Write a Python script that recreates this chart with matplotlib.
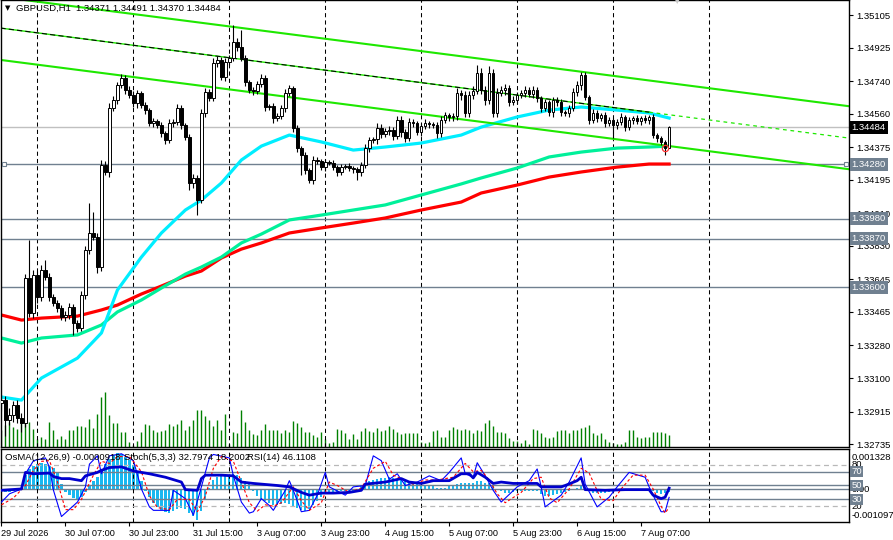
import numpy as np
import matplotlib
matplotlib.use('Agg')
import matplotlib.pyplot as plt
import matplotlib.transforms as mtrans

plt.rcParams['font.family'] = ['Liberation Sans', 'DejaVu Sans']
plt.rcParams['font.size'] = 6.8

################################################################################
# GBPUSD H1 data (bar 0 = 29 Jul 15:00)

close = np.array([
    1.32978, 1.32868, 1.32896, 1.32951, 1.32879, 1.32851, 1.33652, 1.33459, 1.33669, 1.33547,
    1.33697, 1.33658, 1.33547, 1.33514, 1.33487, 1.33437, 1.33448, 1.33492, 1.33404, 1.33376,
    1.33558, 1.33807, 1.33901, 1.33879, 1.33713, 1.34277, 1.34238, 1.34591, 1.34636, 1.34718,
    1.34757, 1.34691, 1.34663, 1.34619, 1.34674, 1.34608, 1.34580, 1.34509, 1.34520, 1.34497,
    1.34453, 1.34415, 1.34509, 1.34514, 1.34591, 1.34497, 1.34431, 1.34177, 1.34205, 1.34083,
    1.34564, 1.34680, 1.34647, 1.34840, 1.34857, 1.34763, 1.34845, 1.34868, 1.34956, 1.34928,
    1.34868, 1.34735, 1.34691, 1.34685, 1.34724, 1.34757, 1.34597, 1.34602, 1.34536, 1.34547,
    1.34591, 1.34674, 1.34702, 1.34481, 1.34370, 1.34332, 1.34249, 1.34194, 1.34304, 1.34299,
    1.34265, 1.34293, 1.34288, 1.34265, 1.34238, 1.34265, 1.34271, 1.34260, 1.34254, 1.34238,
    1.34277, 1.34370, 1.34415, 1.34420, 1.34481, 1.34448, 1.34464, 1.34470, 1.34437, 1.34525,
    1.34459, 1.34426, 1.34514, 1.34509, 1.34459, 1.34492, 1.34509, 1.34503, 1.34497, 1.34453,
    1.34525, 1.34553, 1.34542, 1.34547, 1.34674, 1.34663, 1.34564, 1.34663, 1.34685, 1.34785,
    1.34691, 1.34636, 1.34785, 1.34564, 1.34674, 1.34691, 1.34702, 1.34625, 1.34636, 1.34663,
    1.34674, 1.34691, 1.34669, 1.34691, 1.34647, 1.34591, 1.34625, 1.34569, 1.34636, 1.34625,
    1.34569, 1.34564, 1.34591, 1.34680, 1.34718, 1.34774, 1.34652, 1.34525, 1.34564, 1.34536,
    1.34553, 1.34509, 1.34525, 1.34497, 1.34514, 1.34542, 1.34486, 1.34525, 1.34536, 1.34520,
    1.34536, 1.34525, 1.34542, 1.34442, 1.34426, 1.34404, 1.34371, 1.34484])
first_open = 1.32960

# wick lengths above / below the body, in points (1e-5)
up_wick = np.array([
    30, 25, 40, 20, 25, 30, 20, 210, 25, 20,
    30, 55, 20, 15, 15, 15, 20, 20, 15, 15,
    25, 20, 166, 116, 20, 25, 20, 30, 20, 15,
    20, 15, 20, 25, 15, 10, 15, 10, 15, 10,
    15, 10, 20, 15, 25, 15, 10, 15, 20, 15,
    20, 20, 15, 25, 20, 15, 20, 15, 94, 20,
    94, 15, 10, 15, 15, 20, 15, 10, 15, 15,
    15, 20, 15, 10, 15, 10, 15, 10, 20, 15,
    10, 15, 10, 15, 10, 15, 10, 15, 10, 10,
    15, 20, 15, 10, 25, 20, 15, 20, 15, 25,
    20, 15, 20, 15, 10, 15, 20, 10, 10, 15,
    20, 15, 10, 15, 30, 15, 20, 25, 30, 44,
    25, 20, 40, 20, 30, 20, 20, 15, 20, 15,
    15, 20, 15, 20, 15, 10, 15, 10, 15, 15,
    15, 10, 15, 20, 25, 17, 15, 10, 20, 15,
    10, 15, 15, 10, 15, 20, 10, 15, 10, 15,
    10, 15, 10, 15, 10, 10, 10, 7])
dn_wick = np.array([
    40, 90, 30, 40, 30, 50, 20, 20, 25, 30,
    20, 15, 20, 15, 20, 15, 20, 20, 66, 20,
    15, 20, 20, 15, 33, 20, 15, 28, 15, 20,
    15, 20, 15, 20, 25, 15, 20, 15, 20, 15,
    20, 25, 15, 20, 15, 20, 15, 40, 30, 83,
    15, 20, 15, 15, 20, 15, 20, 15, 15, 20,
    15, 20, 15, 20, 15, 15, 20, 15, 25, 15,
    15, 20, 15, 20, 20, 110, 20, 17, 20, 15,
    15, 20, 10, 15, 20, 15, 10, 15, 20, 44,
    20, 15, 20, 15, 25, 20, 15, 20, 25, 15,
    25, 20, 15, 20, 15, 20, 15, 20, 15, 25,
    20, 15, 20, 25, 20, 30, 20, 25, 20, 15,
    20, 30, 20, 25, 20, 15, 25, 20, 15, 20,
    15, 20, 15, 20, 25, 20, 15, 20, 25, 20,
    20, 15, 20, 15, 20, 25, 15, 20, 15, 20,
    15, 20, 15, 72, 20, 15, 20, 15, 20, 15,
    20, 15, 20, 15, 20, 15, 39, 1])

# tick volume (hundreds)
tick_vol = np.array([
    17, 22, 25, 20, 18, 28, 30, 25, 18, 8,
    10, 8, 25, 17, 8, 11, 8, 17, 17, 21,
    21, 20, 28, 19, 33, 50, 55, 32, 24, 24,
    15, 15, 5, 2, 6, 15, 23, 22, 17, 15,
    16, 17, 23, 21, 23, 27, 17, 21, 27, 37,
    37, 31, 27, 21, 27, 17, 33, 3, 15, 14,
    37, 25, 17, 13, 12, 17, 23, 17, 17, 17,
    14, 17, 15, 26, 24, 20, 15, 15, 12, 10,
    15, 8, 4, 5, 18, 17, 14, 8, 13, 8,
    16, 19, 16, 15, 19, 16, 17, 21, 18, 15,
    13, 14, 14, 14, 14, 5, 4, 5, 16, 17,
    10, 10, 17, 20, 18, 17, 18, 17, 14, 17,
    16, 24, 27, 21, 15, 15, 14, 9, 6, 6,
    4, 7, 3, 18, 17, 14, 10, 9, 10, 16,
    17, 17, 14, 17, 17, 19, 20, 22, 14, 12,
    14, 8, 5, 4, 3, 3, 5, 17, 17, 10,
    9, 10, 10, 15, 15, 15, 14, 12])

# moving averages, read at these bars
ma_bars = [0, 5, 10, 19, 25, 29, 35, 40, 46, 50, 55, 60, 65, 72, 80, 88, 96,
           105, 115, 120, 129, 137, 145, 154, 162, 167]
ma_fast = [1.32995, 1.32978, 1.33100, 1.33210, 1.33349, 1.33586, 1.33768, 1.33901,
           1.34028, 1.34083, 1.34177, 1.34304, 1.34381, 1.34442, 1.34404, 1.34359,
           1.34376, 1.34398, 1.34442, 1.34486, 1.34542, 1.34580, 1.34597, 1.34580,
           1.34564, 1.34536]
ma_mid = [1.33321, 1.33293, 1.33321, 1.33338, 1.33393, 1.33465, 1.33531, 1.33597,
          1.33674, 1.33713, 1.33768, 1.33846, 1.33895, 1.33973, 1.34000, 1.34028,
          1.34056, 1.34111, 1.34172, 1.34205, 1.34260, 1.34321, 1.34348, 1.34370,
          1.34376, 1.34381]
ma_slow = [1.33448, 1.33420, 1.33431, 1.33442, 1.33476, 1.33503, 1.33564, 1.33608,
           1.33663, 1.33691, 1.33763, 1.33812, 1.33846, 1.33901, 1.33929, 1.33956,
           1.33984, 1.34028, 1.34072, 1.34122, 1.34166, 1.34210, 1.34238, 1.34265,
           1.34282, 1.34282]

# descending channel (end points)
chan_bars = [-0.25, 211.75]
chan_upper = [1.35205, 1.34602]
chan_middle = [1.35033, 1.34426]
chan_lower = [1.34857, 1.34254]

levels = [1.34280, 1.33980, 1.33870, 1.33600]
last_price = 1.34484

price_ticks = [1.35105, 1.34925, 1.34740, 1.34560, 1.34375, 1.34195, 1.34010,
               1.33830, 1.33645, 1.33465, 1.33280, 1.33100, 1.32915, 1.32735]

day_bars = [9, 33, 57, 81, 105, 129, 153, 177]
time_bars = [0, 16, 32, 48, 64, 80, 96, 112, 128, 144, 160]
time_labels = ['29 Jul 2026', '30 Jul 07:00', '30 Jul 23:00', '31 Jul 15:00',
               '3 Aug 07:00', '3 Aug 23:00', '4 Aug 15:00', '5 Aug 07:00',
               '5 Aug 23:00', '6 Aug 15:00', '7 Aug 07:00']

# OsMA(12,26,9) histogram, in points (1e-5)
osma_pts = np.array([
    -7, -11, -11, -7, -4, 0, 54, 75, 86, 93,
    97, 93, 86, 79, 61, 18, -11, -22, -32, -36,
    -29, -11, 11, 32, 47, 72, 93, 111, 126, 133,
    129, 118, 108, 90, 65, 29, -7, -29, -50, -65,
    -75, -83, -86, -79, -72, -68, -72, -86, -97, -110,
    -79, -36, 7, 36, 47, 50, 54, 54, 57, 54,
    43, 32, 18, -4, -25, -36, -43, -50, -57, -57,
    -54, -50, -54, -61, -68, -75, -79, -72, -57, -43,
    -29, -14, -11, -11, -11, -7, -7, -7, -4, 0,
    11, 18, 29, 36, 39, 43, 43, 47, 43, 39,
    36, 29, 25, 22, 18, 14, 14, 11, 11, 7,
    7, 7, 11, 11, 18, 22, 22, 22, 25, 29,
    29, 25, 22, 11, 0, -7, -14, -14, -11, -7,
    -4, -4, -4, -4, -7, -18, -25, -25, -22, -18,
    -14, -11, -7, 0, 7, 11, 7, -7, -14, -14,
    -14, -14, -11, -11, -7, -7, -4, -4, -4, -4,
    -4, -4, -4, -7, -14, -18, -14, -9])

# RSI(14)
rsi_bars = [0, 5, 6, 8, 12, 13, 15, 17, 20, 21, 24, 25, 27, 30, 33, 35, 37, 41, 45, 46,
            49, 50, 51, 55, 58, 60, 63, 65, 69, 72, 75, 77, 80, 83, 87, 90, 91, 96, 100, 102,
            105, 108, 112, 115, 117, 118, 119, 121, 123, 125, 128, 131, 134, 135, 140, 141,
            144, 145, 146, 151, 156, 162, 163, 165, 166, 167]
rsi_vals = [43, 45, 69, 67, 68, 63, 60, 60, 57, 64, 69, 72, 76, 77, 71, 69, 67, 62, 55, 44,
            43, 60, 65, 65, 64, 55, 53, 52, 50, 48, 40, 36, 39, 39, 40, 43, 52, 55, 60, 55,
            53, 57, 57, 67, 67, 61, 69, 62, 53, 55, 53, 53, 53, 48, 48, 50,
            57, 62, 44, 43, 44, 44, 36, 31, 33, 46.11]

# Stochastic(5,3,3) main and signal
st_bars = [0, 2, 5, 6, 8, 11, 12, 13, 15, 19, 21, 22, 24, 25, 27, 30, 33, 35, 37, 38,
           42, 43, 46, 48, 50, 52, 53, 57, 58, 60, 62, 63, 65, 67, 68, 71, 72, 73, 75, 77,
           79, 81, 82, 86, 88, 91, 93, 95, 97, 99, 101, 104, 107, 110, 112, 115, 116, 118,
           119, 121, 123, 125, 129, 132, 134, 135, 136, 140, 142, 145, 146, 149, 152, 154,
           157, 161, 162, 165, 166, 167]
st_main = [26, 38, 45, 67, 86, 90, 76, 43, 5, 26, 48, 81, 93, 67, 93, 96, 86, 45, 19, 14,
           14, 43, 31, 7, 48, 90, 95, 90, 64, 26, 10, 12, 31, 21, 14, 43, 57, 43, 12, 14,
           36, 69, 48, 36, 48, 50, 93, 86, 59, 67, 50, 55, 64, 57, 69, 90, 67, 62,
           83, 64, 43, 26, 48, 57, 74, 48, 19, 36, 55, 90, 52, 19, 33, 48,
           69, 62, 48, 12, 12, 32.8]
sg_bars = [0, 3, 6, 8, 10, 12, 14, 16, 18, 20, 23, 25, 27, 29, 32, 35, 37, 39, 42, 44,
           47, 49, 51, 53, 55, 58, 60, 62, 64, 66, 68, 70, 73, 75, 77, 80, 82, 84, 87, 90,
           93, 96, 98, 100, 103, 106, 109, 113, 116, 118, 120, 122, 124, 126, 130, 133,
           135, 137, 139, 142, 145, 147, 150, 153, 155, 158, 161, 163, 165, 166, 167]
st_signal = [22, 32, 50, 72, 85, 86, 55, 15, 15, 30, 65, 85, 82, 92, 92, 70, 35, 18, 15, 30,
             30, 12, 35, 75, 92, 85, 55, 25, 13, 22, 20, 25, 48, 28, 14, 25, 55, 50, 40, 46,
             75, 85, 65, 60, 52, 58, 58, 62, 82, 70, 72, 58, 38, 25, 40, 60,
             62, 32, 25, 45, 75, 68, 30, 28, 45, 65, 65, 45, 20, 10, 18.2]

################################################################################

W, H = 893, 540
fig = plt.figure(figsize=(W / 100, H / 100), dpi=100)


def box(x0, y0, x1, y1):
    return [x0 / W, 1 - y1 / H, (x1 - x0) / W, (y1 - y0) / H]


slate = '#708090'
lime = '#1ee800'

ax = fig.add_axes(box(0.5, 0, 849, 447))
axv = ax.twinx()
ax.set_zorder(axv.get_zorder() + 1)
ax.patch.set_visible(False)

idx = np.arange(len(close))
opens = np.concatenate([[first_open], close[:-1]])
highs = np.maximum(opens, close) + up_wick * 1e-5
lows = np.minimum(opens, close) - dn_wick * 1e-5
bull = close >= opens

axv.vlines(idx, 0, tick_vol, color='#008000', lw=1.0)
axv.set_ylim(0, tick_vol.max() * 447 / 55)
axv.set_axis_off()

for b in day_bars:
    ax.axvline(b, color='black', lw=0.75, ls=(0, (4, 3)), zorder=1)

ax.axhline(last_price, color='#c0c0c0', lw=1.0, zorder=1)
for lv in levels:
    ax.axhline(lv, color=slate, lw=1.0, zorder=1)
blend = mtrans.blended_transform_factory(ax.transAxes, ax.transData)
ax.plot([0.004, 0.996], [levels[0]] * 2, ls='none', marker='s', ms=3.2,
        mfc='white', mec=slate, mew=0.8, transform=blend, zorder=6)

ax.plot(ma_bars, ma_slow, color='#ff0000', lw=2.3, zorder=2)
ax.plot(ma_bars, ma_mid, color='#00f09a', lw=2.3, zorder=2)
ax.plot(ma_bars, ma_fast, color='#00eeff', lw=2.3, zorder=2)

ax.plot(chan_bars, chan_upper, color=lime, lw=1.5, zorder=2)
ax.plot(chan_bars, chan_lower, color=lime, lw=1.5, zorder=2)
split = 162
mid_split = np.interp(split, chan_bars, chan_middle)
ax.plot([chan_bars[0], split], [chan_middle[0], mid_split], color=lime, lw=1.0, zorder=2)
ax.plot([chan_bars[0], split], [chan_middle[0], mid_split], color='black', lw=0.75,
        ls=(0, (5, 3)), zorder=2)
ax.plot([split, chan_bars[1]], [mid_split, chan_middle[1]], color=lime, lw=0.9,
        ls=(0, (3, 3)), zorder=2)

ax.vlines(idx, lows, highs, color='black', lw=0.8, zorder=3)
ax.bar(idx[bull], (close - opens)[bull], bottom=opens[bull], width=0.62,
       color='white', edgecolor='black', lw=0.7, zorder=4)
ax.bar(idx[~bull], (close - opens)[~bull], bottom=opens[~bull], width=0.62,
       color='black', edgecolor='black', lw=0.7, zorder=4)
ax.plot([166], [close[166]], marker='o', ms=4.5, mfc='none', mec='#ff3030', mew=0.9, zorder=5)

ax.set_xlim(-0.25, 212)
ax.set_ylim(1.32719, 1.35188)
ax.set_xticks([])
ax.yaxis.tick_right()
ax.set_yticks(price_ticks)
ax.set_yticklabels(['%.5f' % v for v in price_ticks])
ax.tick_params(axis='y', direction='out', length=3, width=0.8, labelsize=6.8, pad=2)
for s in ax.spines.values():
    s.set_linewidth(1.0)

bx = 1.0 + 2.5 / 849
ax.text(bx, last_price, '%.5f' % last_price, transform=blend, color='white',
        fontsize=6.8, va='center', ha='left', clip_on=False, zorder=10,
        bbox=dict(boxstyle='square,pad=0.2', fc='black', ec='none'))
for lv in levels:
    ax.text(bx, lv, '%.5f' % lv, transform=blend, color='white', fontsize=6.8,
            va='center', ha='left', clip_on=False, zorder=10,
            bbox=dict(boxstyle='square,pad=0.2', fc=slate, ec='none'))

fig.text(5 / W, 1 - 8 / H, '\u25bc', fontsize=5, va='center', ha='left',
         family=['DejaVu Sans'])
fig.text(16 / W, 1 - 8 / H, 'GBPUSD,H1  1.34371 1.34491 1.34370 1.34484',
         fontsize=6.8, va='center', ha='left')
fig.text(677 / W, 1 - 1 / H, '\u25bc', fontsize=6, va='center', ha='center',
         color='#c8c8c8', family=['DejaVu Sans'])

################################################################################
# indicator window

axi = fig.add_axes(box(0.5, 449, 849, 522))
axo = axi.twinx()
axi.set_zorder(axo.get_zorder() + 1)
axi.patch.set_visible(False)

osma = osma_pts * 1e-5
axo.bar(idx, osma, width=0.55, color='#1ab8f0', lw=0)
axo.axhline(0, color=slate, lw=1.0)
axo.set_ylim(-0.001185, 0.001472)
axo.set_axis_off()

for b in day_bars:
    axi.axvline(b, color='black', lw=0.75, ls=(0, (4, 3)), zorder=1)
for lv in (70, 50, 30):
    axi.axhline(lv, color=slate, lw=1.0, zorder=1)
for lv in (80, 20):
    axi.axhline(lv, color='#b8b8b8', lw=0.9, ls=(0, (4, 3)), zorder=1)

axi.plot(st_bars, st_main, color='#0000ff', lw=0.8, zorder=3)
axi.plot(sg_bars, st_signal, color='#ff0000', lw=0.8, ls=(0, (2.5, 2)), zorder=3)
axi.plot(rsi_bars, rsi_vals, color='#0000cd', lw=2.0, zorder=4)

axi.set_xlim(-0.25, 212)
axi.set_ylim(-2.9, 102.9)
axi.set_yticks([])
axi.set_xticks(time_bars)
axi.set_xticklabels(time_labels, ha='left')
axi.tick_params(axis='x', direction='out', length=3, width=0.8, labelsize=6.6, pad=2)
for s in axi.spines.values():
    s.set_linewidth(1.0)

iblend = mtrans.blended_transform_factory(axi.transAxes, axi.transData)
oblend = mtrans.blended_transform_factory(axo.transAxes, axo.transData)
axo.text(bx, 0.001328, '0.001328', transform=oblend, fontsize=6.8, va='top',
         ha='left', clip_on=False)
axo.text(bx, 0.0, '0.00', transform=oblend, fontsize=6.8, va='center',
         ha='left', clip_on=False)
axo.text(bx, -0.001097, '-0.001097', transform=oblend, fontsize=6.8,
         va='bottom', ha='left', clip_on=False)
for lv in (80, 20):
    axi.text(bx, lv, str(lv), transform=iblend, fontsize=6.8, va='center',
             ha='left', clip_on=False)
for lv in (70, 50, 30):
    axi.text(bx, lv, str(lv), transform=iblend, fontsize=6.8, va='center',
             ha='left', color='white', clip_on=False, zorder=10,
             bbox=dict(boxstyle='square,pad=0.12', fc=slate, ec='none'))

fig.text(5 / W, 1 - 457 / H, 'OsMA(12,26,9) -0.0000918', fontsize=6.8, va='center')
fig.text(124 / W, 1 - 457 / H, 'Stoch(5,3,3) 32.7974 18.2002', fontsize=6.8, va='center')
fig.text(247 / W, 1 - 457 / H, 'RSI(14) 46.1108', fontsize=6.8, va='center')

fig.savefig('out.png', dpi=100)
